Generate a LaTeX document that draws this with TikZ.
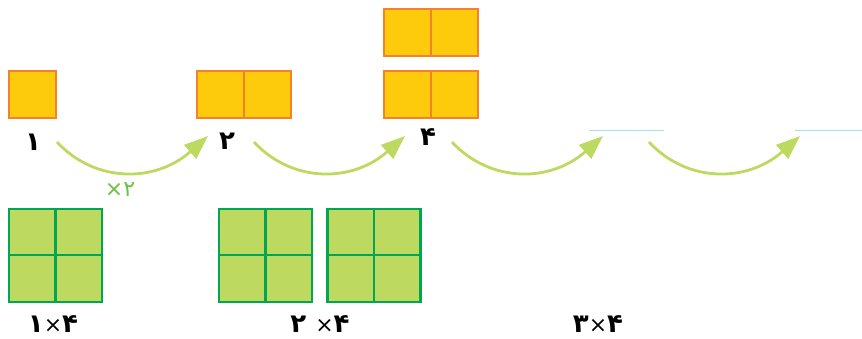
\documentclass[tikz,border=0pt]{standalone}
\usepackage{fontspec}
\TeXXeTstate=1
\newfontfamily\fa[Script=Arabic]{DejaVu Sans}
\usetikzlibrary{arrows.meta}
\definecolor{ofill}{HTML}{FDCB0B}
\definecolor{oline}{HTML}{F5822A}
\definecolor{gfill}{HTML}{BED95F}
\definecolor{gline}{HTML}{00A651}
\definecolor{agreen}{HTML}{BED95F}
\definecolor{tgreen}{HTML}{6CBE45}
\definecolor{bline}{HTML}{A8DCF4}
\newcommand{\tms}{{\mdseries\fontsize{22}{24}\selectfont ×}}
\tikzset{
  osq/.style={draw=oline, fill=ofill, line width=2pt, minimum size=47pt, inner sep=0pt, outer sep=0pt},
  gsq/.style={draw=gline, fill=gfill, line width=2.4pt, minimum size=46.5pt, inner sep=0pt, outer sep=0pt},
  num/.style={font=\fa\bfseries\fontsize{26}{30}\selectfont, text=black, inner sep=0pt},
  mult/.style={font=\fa\fontsize{22}{26}\selectfont, text=tgreen, inner sep=0pt},
  jump/.style={draw=agreen, line width=2.8pt, -{Triangle[length=24pt,width=18pt]}},
  blank/.style={draw=bline, line width=1.4pt}
}
\begin{document}
\begin{tikzpicture}[x=1pt,y=-1pt]
\useasboundingbox (0,0) rectangle (862,339);
% orange squares
\node[osq] (o1) at (32.5,94.5) {};
\node[osq] (o2a) at (220.5,94.5) {};
\node[osq] (o2b) at (267.5,94.5) {};
\node[osq] (o4a) at (407.5,32.5) {};
\node[osq] (o4b) at (454.5,32.5) {};
\node[osq] (o4c) at (407.5,94.5) {};
\node[osq] (o4d) at (454.5,94.5) {};
% labels
\node[num] (n1) at (33,142) {\beginR ۱\endR};
\node[num] (n2) at (227,141) {\beginR ۲\endR};
\node[num] (n4) at (428,137) {\beginR ۴\endR};
\node[mult] (m2) at (120,190) {\beginR ۲×\endR};
% blanks
\coordinate (b1s) at (589,130.5);
\coordinate (b1e) at (664,130.5);
\coordinate (b2s) at (795,130.5);
\coordinate (b2e) at (862,130.5);
\draw[blank] (b1s) -- (b1e);
\draw[blank] (b2s) -- (b2e);
% arrows
\foreach \i/\dx in {1/0,2/197,3/395,4/592}{
  \coordinate (s\i) at (57+\dx,142);
  \coordinate (e\i) at (208+\dx,136);
  \draw[jump] (s\i) .. controls +(38,41) and +(-53,47) .. (e\i);
}
% green grids
\foreach \g/\x in {1/9,2/219,3/327.5}{
  \node[gsq] (g\g a) at (\x+23.25,232) {};
  \node[gsq] (g\g b) at (\x+69.75,232) {};
  \node[gsq] (g\g c) at (\x+23.25,278.5) {};
  \node[gsq] (g\g d) at (\x+69.75,278.5) {};
}
\node[num] (p1) at (53,324) {\beginR ۴\tms۱\endR};
\node[num] (p2) at (320,324) {\beginR ۴\tms\ ۲\endR};
\node[num] (p3) at (598,324) {\beginR ۴\tms۳\endR};
\end{tikzpicture}
\end{document}
